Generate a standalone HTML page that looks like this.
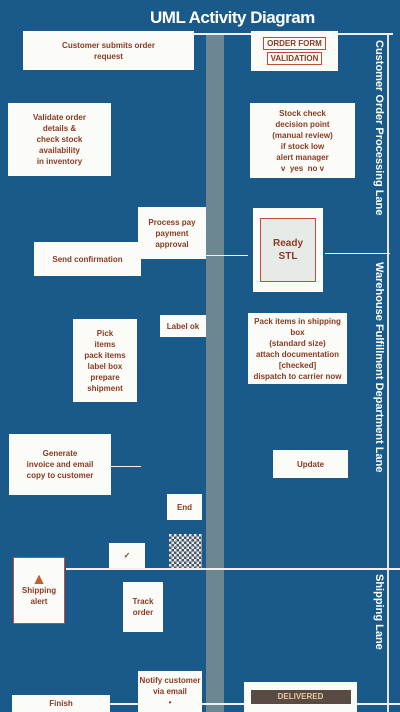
<!DOCTYPE html>
<html><head><meta charset="utf-8">
<style>
html,body{margin:0;padding:0}
body{width:400px;height:712px;position:relative;overflow:hidden;background:#1a5a8a;font-family:"Liberation Sans",sans-serif}
.a{position:absolute}
.box{position:absolute;background:#fbfbf8;color:#8a3a22;font-weight:bold;font-size:8px;line-height:11px;text-align:center;box-sizing:border-box;display:flex;flex-direction:column;justify-content:center;align-items:center;overflow:hidden}
.bd{border:1px solid #c24a3a}
.ln{position:absolute;background:#f4eeee}
.vt{position:absolute;color:#fff;font-weight:bold;font-size:11px;writing-mode:vertical-rl;white-space:nowrap;overflow:hidden}
</style></head><body>
<div class="a" style="left:206px;top:34px;width:18px;height:678px;background:#6d8792"></div>
<div class="a" style="left:387px;top:34px;width:2px;height:678px;background:#dfe8f2"></div>
<div class="a" style="left:150px;top:8px;width:245px;font-size:17px;font-weight:bold;color:#fff;white-space:nowrap;letter-spacing:-0.5px">UML Activity Diagram</div>
<div class="ln" style="left:193px;top:33px;width:200px;height:2px"></div>
<div class="ln" style="left:66px;top:568px;width:334px;height:2px"></div>
<div class="ln" style="left:110px;top:703px;width:290px;height:2px"></div>
<div class="ln" style="left:140px;top:255px;width:108px;height:1px"></div>
<div class="ln" style="left:325px;top:253px;width:65px;height:1px"></div>
<div class="ln" style="left:111px;top:466px;width:30px;height:1px"></div>
<div class="vt" style="left:373px;top:40px;height:205px">Customer Order Processing Lane</div>
<div class="vt" style="left:373px;top:262px;height:300px">Warehouse Fulfillment Department Lane</div>
<div class="vt" style="left:373px;top:574px;height:125px">Shipping Lane</div>

<div class="box" style="left:23px;top:31px;width:171px;height:39px">Customer submits order<br>request</div>
<div class="box" style="left:251px;top:31px;width:87px;height:40px"><div class="bd" style="padding:0 3px">ORDER FORM</div><div class="bd" style="padding:0 3px;margin-top:2px">VALIDATION</div></div>
<div class="box" style="left:8px;top:103px;width:103px;height:73px">Validate order<br>details &amp;<br>check stock<br>availability<br>in inventory</div>
<div class="box" style="left:250px;top:103px;width:105px;height:75px">Stock check<br>decision point<br>(manual review)<br>if stock low<br>alert manager<br>v &nbsp;yes &nbsp;no v</div>
<div class="box" style="left:138px;top:207px;width:68px;height:52px">Process pay<br>payment<br>approval</div>
<div class="box" style="left:34px;top:242px;width:107px;height:34px">Send confirmation</div>
<div class="box" style="left:253px;top:208px;width:70px;height:84px"><div class="bd" style="width:54px;height:62px;background:#e6ebe8;display:flex;align-items:center;justify-content:center;font-size:10px;line-height:13px">Ready<br>STL</div></div>
<div class="box" style="left:73px;top:319px;width:64px;height:83px">Pick<br>items<br>pack items<br>label box<br>prepare shipment</div>
<div class="box" style="left:160px;top:315px;width:46px;height:22px">Label ok</div>
<div class="box" style="left:248px;top:313px;width:99px;height:71px">Pack items in shipping box<br>(standard size)<br>attach documentation<br>[checked]<br>dispatch to carrier now</div>
<div class="box" style="left:9px;top:434px;width:102px;height:61px">Generate<br>invoice and email<br>copy to customer</div>
<div class="box" style="left:273px;top:450px;width:75px;height:28px">Update</div>
<div class="box" style="left:167px;top:494px;width:35px;height:26px">End</div>
<div class="box" style="left:109px;top:543px;width:36px;height:25px">&#10003;</div>
<div class="box" style="left:169px;top:534px;width:33px;height:34px;background:repeating-conic-gradient(#3a5a7a 0 25%,#f3e6d8 0 50%) 0 0/5px 5px"></div>
<div class="box bd" style="left:13px;top:557px;width:52px;height:67px"><span style="font-size:16px;color:#c0602a">&#9650;</span>Shipping<br>alert</div>
<div class="box" style="left:123px;top:582px;width:40px;height:50px">Track<br>order</div>
<div class="box" style="left:138px;top:671px;width:64px;height:41px">Notify customer<br>via email<br>&bull;</div>
<div class="box" style="left:12px;top:695px;width:98px;height:17px">Finish</div>
<div class="box" style="left:244px;top:682px;width:113px;height:30px"><div style="background:#5a4a44;color:#e8c8a0;width:100px;height:14px;line-height:14px">DELIVERED</div></div>
</body></html>
